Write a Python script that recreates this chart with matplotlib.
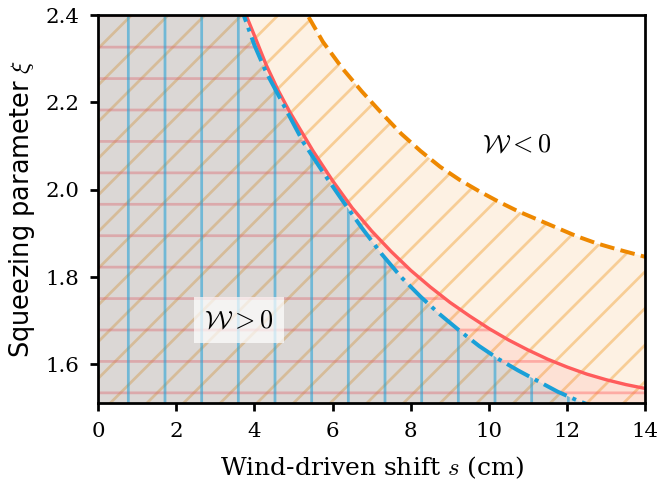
import warnings
import matplotlib
matplotlib.use("Agg")
import matplotlib.pyplot as plt
import matplotlib.hatch as mhatch
from matplotlib.colors import to_rgb

# boundary curves: squeezing parameter xi against the wind-driven shift s (cm)
# (the first point of each curve sits above the plotted range so the fills reach s = 0)
s_neg = [0.0, 5.35, 5.75, 6.25, 6.75, 7.25, 7.75, 8.25, 8.75, 9.25, 9.75, 10.25,
         10.75, 11.25, 11.75, 12.25, 12.75, 13.25, 13.75, 14.0]
xi_neg = [3.2, 2.400, 2.338, 2.277, 2.224, 2.175, 2.128, 2.088, 2.052, 2.022, 1.996, 1.972,
          1.950, 1.931, 1.912, 1.893, 1.877, 1.864, 1.852, 1.846]

s_mid = [0.0, 3.78, 4.0, 4.3, 4.6, 4.9, 5.2, 5.5, 6.0, 6.5, 7.0, 7.5, 8.0, 8.5, 9.0,
         9.5, 10.0, 10.5, 11.0, 11.5, 12.0, 12.5, 13.0, 13.5, 14.0]
xi_mid = [3.0, 2.400, 2.352, 2.285, 2.228, 2.178, 2.133, 2.088, 2.020, 1.958, 1.905, 1.858,
          1.815, 1.777, 1.742, 1.711, 1.682, 1.656, 1.633, 1.612, 1.594, 1.578, 1.565,
          1.554, 1.545]

s_pos = [0.0, 3.72, 4.0, 4.3, 4.6, 4.9, 5.25, 5.75, 6.25, 6.75, 7.25, 7.75, 8.25, 8.75,
         9.25, 9.75, 10.25, 10.75, 11.25, 11.75, 12.25, 12.6]
xi_pos = [3.0, 2.400, 2.330, 2.268, 2.218, 2.167, 2.108, 2.040, 1.975, 1.912, 1.853, 1.800,
          1.755, 1.714, 1.677, 1.642, 1.612, 1.586, 1.562, 1.538, 1.518, 1.506]

ORANGE = '#ee8800'
RED = '#ff5c5c'
BLUE = '#1aa0d8'


class TightHorizontalHatch(mhatch.HorizontalHatch):
    # '_' : horizontal lines, a little closer together than '-'
    def __init__(self, hatch, density):
        self.num_lines = int(hatch.count('_') * density * 7 / 6)
        self.num_vertices = self.num_lines * 2


mhatch._hatch_types.append(TightHorizontalHatch)
warnings.filterwarnings('ignore', message='hatch must consist')

plt.rcParams.update({
    'font.family': 'DejaVu Serif',
    'mathtext.fontset': 'cm',
    'font.size': 7,
    'hatch.linewidth': 0.9,
    'axes.linewidth': 0.9,
    'xtick.major.width': 0.9,
    'ytick.major.width': 0.9,
    'xtick.major.size': 2.5,
    'ytick.major.size': 2.5,
})

fig = plt.figure(figsize=(661.4 / 220, 480.4 / 220), dpi=220)
ax = fig.add_axes([98 / 661, 77 / 480, 547 / 661, 388 / 480])


def shade(s, xi, color, face_alpha, hatch, hatch_alpha):
    ax.fill_between(s, xi, color=color, alpha=face_alpha, lw=0)
    ax.fill_between(s, xi, facecolor='none', edgecolor=(*to_rgb(color), hatch_alpha),
                    hatch=hatch, lw=0)


shade(s_neg, xi_neg, ORANGE, 0.11, '//', 0.34)
shade(s_mid, xi_mid, RED, 0.10, '_', 0.40)
shade(s_pos, xi_pos, BLUE, 0.15, '|', 0.55)

ax.plot(s_neg, xi_neg, color=ORANGE, lw=1.3, ls='--')
ax.plot(s_mid, xi_mid, color=RED, lw=1.1)
ax.plot(s_pos, xi_pos, color=BLUE, lw=1.3, ls='-.')

box = dict(boxstyle='square,pad=0.4', fc='white', ec='none', alpha=0.7)
ax.text(3.6, 1.702, r'$\mathcal{W} > 0$', ha='center', va='center', fontsize=8.6, bbox=box)
ax.text(10.7, 2.106, r'$\mathcal{W} < 0$', ha='center', va='center', fontsize=8.6)

ax.set_xlim(0, 14)
ax.set_ylim(1.512, 2.4)
ax.set_xticks(range(0, 15, 2))
ax.set_yticks([1.6, 1.8, 2.0, 2.2, 2.4])
ax.set_xlabel('Wind-driven shift $s$ (cm)', fontsize=8.2, labelpad=4.5)
ax.set_ylabel(r'Squeezing parameter $\xi$', fontsize=8.4, family='DejaVu Sans', labelpad=3)

fig.savefig('out.png', dpi=220)
